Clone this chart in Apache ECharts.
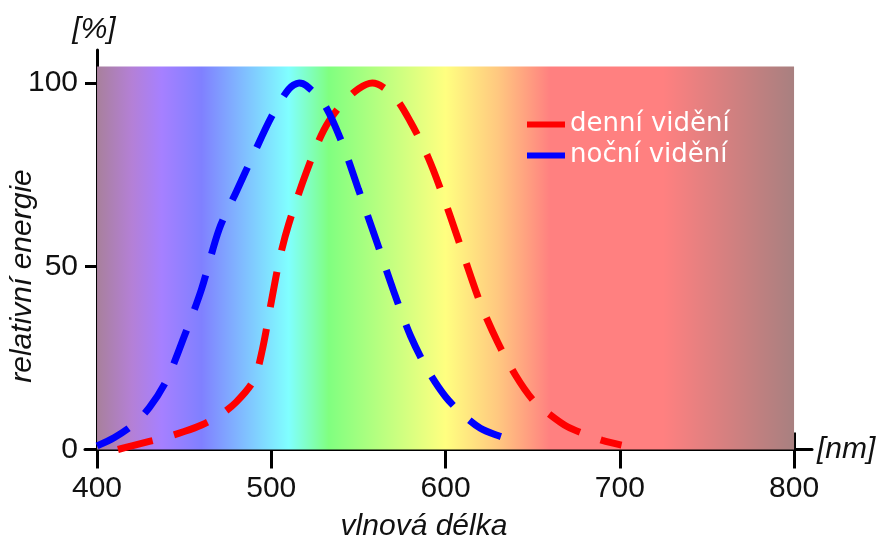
<!DOCTYPE html>
<html>
<head>
<meta charset="utf-8">
<script src="https://cdn.jsdelivr.net/npm/echarts@6/dist/echarts.min.js"></script>
<style>
  html, body { margin: 0; padding: 0; background: #ffffff; }
  #chart { width: 878px; height: 540px; }
</style>
</head>
<body>
<div id="chart"></div>
<script>
// Photopic (day) and scotopic (night) relative sensitivity, in % of the peak
const dayWavelengths = [412, 420, 430, 440, 450, 460, 470, 480, 490, 495, 500, 505, 510, 520, 530, 540, 550, 558, 570, 580, 590, 600, 610, 620, 630, 640, 650, 660, 670, 680, 690, 701];
const dayValues      = [0, 1.0, 2.2, 3.4, 4.9, 6.7, 9.2, 13.0, 19.0, 27.5, 40.3, 52.5, 61.5, 75.5, 87.0, 94.0, 98.4, 100, 96.6, 89.3, 79.7, 67.3, 53.5, 39.9, 29.2, 20.4, 13.6, 9.5, 6.2, 4.2, 2.5, 1.2];

const nightWavelengths = [400, 410, 420, 430, 440, 450, 460, 470, 480, 490, 500, 510, 516, 520, 530, 540, 550, 560, 570, 580, 590, 600, 610, 620, 630, 642];
const nightValues      = [1, 3.3, 6.5, 11.4, 19, 30.8, 43.8, 60, 70.4, 80.7, 90.7, 98.3, 100, 99.3, 94.5, 84.4, 71, 57.4, 43.5, 30.9, 21.5, 14.4, 9.5, 5.8, 3.8, 2];

const seriesNames = ['denní vidění', 'noční vidění'];
const xTickValues = [400, 500, 600, 700, 800];
const yTickValues = [0, 50, 100];

// Visible spectrum band behind the curves: [wavelength, colour]
const spectrumStops = [
  [400, '#a8809c'], [420, '#b480d6'], [437, '#a680ff'], [460, '#8080ff'],
  [510, '#80ffff'], [533, '#80ff80'], [600, '#ffff80'], [630, '#ffc880'],
  [660, '#ff8080'], [725, '#ff8080'], [800, '#a88080']
];
const spectrumRange = [400, 800];
const spectrumTop = 104.5;

const xMin = 393.1, xMax = 810.3;
const font = '"Liberation Sans", Arial, sans-serif';

function pairs(xs, ys) { return xs.map((x, i) => [x, ys[i]]); }

const gradient = {
  type: 'linear', x: 0, y: 0, x2: 1, y2: 0,
  colorStops: spectrumStops.map(([w, c]) => ({
    offset: (w - spectrumRange[0]) / (spectrumRange[1] - spectrumRange[0]), color: c
  }))
};

const axisBlack = '#000000';
const chart = echarts.init(document.getElementById('chart'), null, { renderer: 'canvas' });

chart.setOption({
  animation: false,
  backgroundColor: '#ffffff',
  grid: { left: 85, right: 66, top: 50, bottom: 90.5, containLabel: false },
  xAxis: [{
    type: 'value', min: xMin, max: xMax,
    axisLine: { show: true, lineStyle: { color: axisBlack, width: 3 } },
    axisTick: { show: true, inside: false, length: 19, customValues: xTickValues, lineStyle: { color: axisBlack, width: 3 } },
    axisLabel: { show: true, customValues: xTickValues, margin: 24, color: '#111', fontSize: 30, fontFamily: font },
    splitLine: { show: false }
  }, {
    type: 'value', min: xMin, max: xMax, position: 'bottom',
    axisLine: { show: false },
    axisTick: { show: true, inside: true, length: 17, customValues: xTickValues, lineStyle: { color: axisBlack, width: 3 } },
    axisLabel: { show: false },
    splitLine: { show: false }
  }],
  yAxis: [{
    type: 'value', min: 0, max: 109, offset: -12,
    axisLine: { show: true, lineStyle: { color: axisBlack, width: 3 } },
    axisTick: { show: true, inside: false, length: 12, customValues: yTickValues, lineStyle: { color: axisBlack, width: 3 } },
    axisLabel: { show: true, customValues: yTickValues, margin: 19, color: '#111', fontSize: 30, fontFamily: font },
    splitLine: { show: false }
  }, {
    type: 'value', min: 0, max: 109, offset: -12, position: 'left',
    axisLine: { show: false },
    axisTick: { show: true, inside: true, length: 11, customValues: yTickValues, lineStyle: { color: axisBlack, width: 3 } },
    axisLabel: { show: false },
    splitLine: { show: false }
  }],
  legend: {
    orient: 'vertical', left: 522, top: 104,
    itemWidth: 38, itemHeight: 6, itemGap: 0,
    icon: 'rect',
    data: seriesNames,
    textStyle: { color: '#ffffff', fontSize: 26, fontFamily: '"DejaVu Sans", sans-serif', lineHeight: 31 }
  },
  series: [{
    name: seriesNames[0], type: 'line', xAxisIndex: 0, yAxisIndex: 0,
    data: pairs(dayWavelengths, dayValues),
    smooth: 0.3, symbol: 'none', z: 3,
    color: '#ff0000',
    lineStyle: { color: '#ff0000', width: 7, type: [36, 22], cap: 'butt' },
    markArea: {
      silent: true, z: 1,
      label: { show: false },
      itemStyle: { color: gradient, opacity: 1 },
      data: [[{ xAxis: spectrumRange[0], yAxis: 0 }, { xAxis: spectrumRange[1], yAxis: spectrumTop }]]
    }
  }, {
    name: seriesNames[1], type: 'line', xAxisIndex: 0, yAxisIndex: 0,
    data: pairs(nightWavelengths, nightValues),
    smooth: 0.3, symbol: 'none', z: 3,
    color: '#0000ff',
    lineStyle: { color: '#0000ff', width: 7, type: [36, 22], cap: 'butt' }
  }],
  graphic: [
    { type: 'text', x: 94, y: 30, style: { text: '[%]', font: 'italic 30px ' + font, fill: '#111', align: 'center', verticalAlign: 'middle' } },
    { type: 'text', x: 817, y: 450, style: { text: '[nm]', font: 'italic 30px ' + font, fill: '#111', align: 'left', verticalAlign: 'middle' } },
    { type: 'text', x: 424, y: 527, style: { text: 'vlnová délka', font: 'italic 30px ' + font, fill: '#111', align: 'center', verticalAlign: 'middle' } },
    { type: 'text', x: 23, y: 276, rotation: Math.PI / 2, style: { text: 'relativní energie', font: 'italic 30px ' + font, fill: '#111', align: 'center', verticalAlign: 'middle' } }
  ]
});
</script>
</body>
</html>
